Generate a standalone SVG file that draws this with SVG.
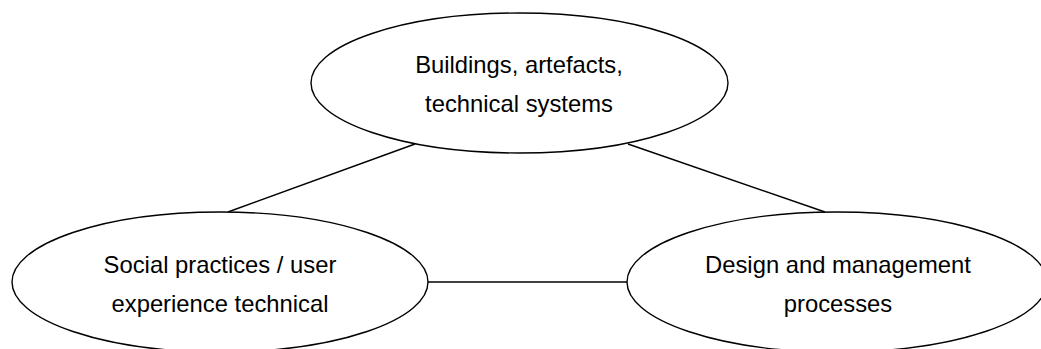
<svg xmlns="http://www.w3.org/2000/svg" width="1041" height="349" viewBox="0 0 1041 349">
<style>
.node ellipse{fill:#fff;stroke:#000;stroke-width:1.4}
.edge line{stroke:#000;stroke-width:1.4}
text{font-family:"Liberation Sans",Arial,sans-serif;font-size:23.8px;fill:#000;text-anchor:middle}
</style>
<rect width="1041" height="349" fill="#fff"/>
<g id="connectors" class="edge">
<line x1="415" y1="144" x2="228" y2="212"/>
<line x1="628" y1="144" x2="825" y2="212"/>
<line x1="428" y1="282" x2="628" y2="282"/>
</g>
<g id="node-buildings" class="node">
<ellipse cx="519.5" cy="83" rx="208.5" ry="70"/>
<text x="519" y="73">Buildings, artefacts,</text>
<text x="519" y="112">technical systems</text>
</g>
<g id="node-social" class="node">
<ellipse cx="220" cy="282" rx="208" ry="70"/>
<text x="220" y="273">Social practices / user</text>
<text x="220" y="312">experience technical</text>
</g>
<g id="node-design" class="node">
<ellipse cx="837" cy="282" rx="210" ry="70"/>
<text x="838" y="273">Design and management</text>
<text x="838" y="312">processes</text>
</g>
</svg>
